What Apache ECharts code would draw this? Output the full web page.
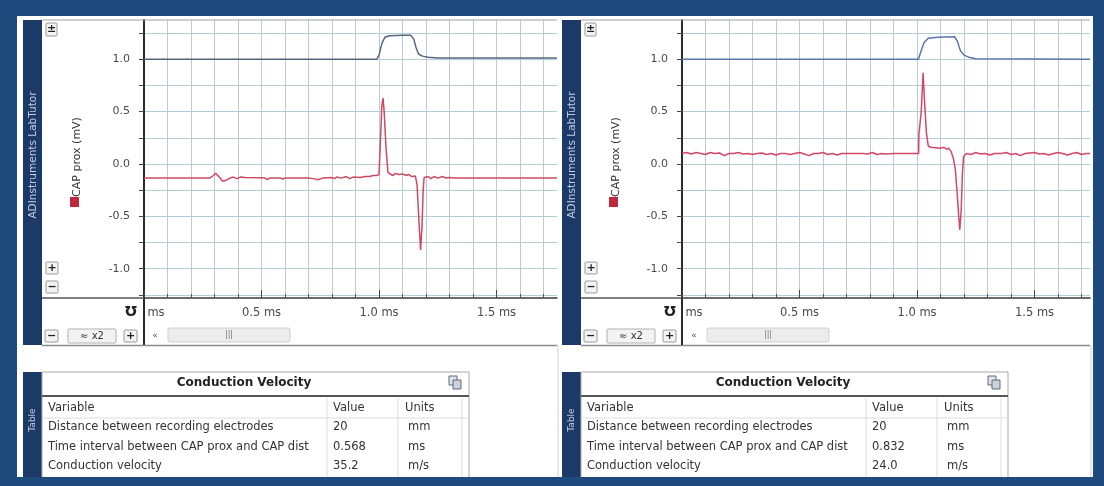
<!DOCTYPE html>
<html><head><meta charset="utf-8">
<script src="https://cdn.jsdelivr.net/npm/echarts@6/dist/echarts.min.js"></script>
<style>html,body{margin:0;padding:0;background:#1f4a7e;}#c{width:1104px;height:486px;}</style>
</head><body><div id="c"></div>
<script>
// ---------- data ----------
const seriesName = 'CAP prox (mV)';
const xUnit = 'ms';
const yTickValues = [-1.25, -1.0, -0.75, -0.5, -0.25, 0, 0.25, 0.5, 0.75, 1.0, 1.25];
const yLabelValues = [-1.0, -0.5, 0, 0.5, 1.0];
const xTickValues = [0.1, 0.2, 0.3, 0.4, 0.5, 0.6, 0.7, 0.8, 0.9, 1.0, 1.1, 1.2, 1.3, 1.4, 1.5, 1.6, 1.7];
const xLabelValues = [0, 0.5, 1.0, 1.5];
const yMin = -1.28, yMax = 1.375;

const leftStim = [[0,1.0],[0.99,1.0],[1.0,1.04],[1.012,1.15],[1.025,1.21],[1.045,1.225],[1.1,1.23],[1.135,1.23],[1.148,1.19],[1.158,1.11],[1.168,1.05],[1.185,1.03],[1.21,1.02],[1.25,1.012],[1.757,1.012]];
const leftCap = [[0,-0.135],[0.28,-0.135],[0.295,-0.11],[0.305,-0.09],[0.318,-0.12],[0.335,-0.165],[0.35,-0.155],[0.365,-0.135],[0.38,-0.125],[0.395,-0.14],[0.41,-0.125],[0.43,-0.13],[0.5,-0.132],[0.515,-0.135],[0.525,-0.15],[0.535,-0.135],[0.58,-0.133],[0.59,-0.145],[0.6,-0.133],[0.65,-0.135],[0.7,-0.133],[0.72,-0.14],[0.74,-0.15],[0.76,-0.135],[0.8,-0.13],[0.81,-0.14],[0.82,-0.125],[0.84,-0.135],[0.86,-0.12],[0.875,-0.14],[0.89,-0.125],[0.92,-0.13],[0.94,-0.12],[0.96,-0.12],[0.975,-0.11],[0.99,-0.11],[1.0,-0.1],[1.004,0.1],[1.012,0.55],[1.017,0.63],[1.022,0.5],[1.03,0.15],[1.038,-0.08],[1.05,-0.1],[1.06,-0.11],[1.07,-0.09],[1.085,-0.1],[1.1,-0.095],[1.115,-0.11],[1.125,-0.1],[1.14,-0.12],[1.155,-0.115],[1.162,-0.2],[1.17,-0.55],[1.177,-0.82],[1.183,-0.6],[1.188,-0.25],[1.192,-0.13],[1.2,-0.13],[1.21,-0.12],[1.22,-0.14],[1.235,-0.12],[1.25,-0.135],[1.27,-0.12],[1.285,-0.135],[1.3,-0.13],[1.32,-0.135],[1.757,-0.135]];

const rightStim = [[0,1.0],[1.006,1.0],[1.016,1.07],[1.03,1.16],[1.048,1.2],[1.09,1.21],[1.16,1.215],[1.172,1.17],[1.185,1.08],[1.2,1.04],[1.22,1.02],[1.25,1.005],[1.736,1.0]];
const rightCap = [[0,0.1],[0.02,0.11],[0.04,0.095],[0.06,0.11],[0.08,0.1],[0.1,0.09],[0.12,0.11],[0.14,0.1],[0.16,0.105],[0.18,0.08],[0.2,0.1],[0.22,0.1],[0.24,0.11],[0.26,0.095],[0.28,0.1],[0.3,0.09],[0.32,0.1],[0.34,0.105],[0.36,0.09],[0.38,0.1],[0.4,0.085],[0.42,0.1],[0.44,0.1],[0.46,0.09],[0.48,0.1],[0.5,0.11],[0.52,0.095],[0.54,0.08],[0.56,0.1],[0.58,0.1],[0.6,0.11],[0.62,0.09],[0.64,0.1],[0.66,0.085],[0.68,0.1],[0.7,0.1],[0.75,0.1],[0.77,0.1],[0.79,0.095],[0.81,0.11],[0.83,0.09],[0.85,0.1],[0.87,0.095],[0.9,0.1],[0.92,0.1],[1.007,0.1],[1.008,0.28],[1.018,0.5],[1.026,0.87],[1.032,0.6],[1.04,0.3],[1.048,0.17],[1.06,0.16],[1.08,0.155],[1.1,0.15],[1.115,0.16],[1.125,0.14],[1.135,0.15],[1.145,0.12],[1.155,0.05],[1.163,-0.05],[1.17,-0.25],[1.176,-0.45],[1.182,-0.63],[1.188,-0.45],[1.193,-0.1],[1.198,0.07],[1.21,0.1],[1.23,0.09],[1.25,0.11],[1.27,0.095],[1.29,0.1],[1.31,0.085],[1.33,0.1],[1.36,0.1],[1.38,0.11],[1.4,0.09],[1.42,0.1],[1.44,0.08],[1.46,0.1],[1.5,0.11],[1.52,0.095],[1.54,0.1],[1.56,0.085],[1.58,0.1],[1.6,0.11],[1.62,0.1],[1.64,0.085],[1.66,0.1],[1.68,0.11],[1.7,0.09],[1.72,0.1],[1.736,0.1]];

const tableTitle = 'Conduction Velocity';
const tableHeaders = ['Variable', 'Value', 'Units'];
const tableVariables = ['Distance between recording electrodes', 'Time interval between CAP prox and CAP dist', 'Conduction velocity'];
const leftValues = ['20', '0.568', '35.2'];
const rightValues = ['20', '0.832', '24.0'];
const tableUnits = ['mm', 'ms', 'm/s'];
const sideLabel = 'ADInstruments LabTutor';
const tableTab = 'Table';

// ---------- layout / style ----------
const FONT = 'DejaVu Sans';
const GRID_COLOR = '#b5cdd6';
const NAVY = '#1c3a68';
const panels = [
  {dx:0, left:144, width:413, stim:leftStim, cap:leftCap, stimColor:'#56667f', capColor:'#cc4a60', values:leftValues},
  {dx:539, left:682, width:408, stim:rightStim, cap:rightCap, stimColor:'#5a76ae', capColor:'#d4466a', values:rightValues}
];
const PX_PER_MS = 235;

const grids = [], xAxes = [], yAxes = [], series = [];
panels.forEach((p, i) => {
  const xMax = p.width / PX_PER_MS;
  grids.push({left:p.left, top:20, width:p.width, height:278, show:true, backgroundColor:'#ffffff', borderWidth:0});
  xAxes.push({gridIndex:i, type:'value', min:0, max:xMax, position:'bottom',
    axisLine:{show:true, onZero:false, lineStyle:{color:'#3a3a3a', width:1.5}},
    axisTick:{show:true, inside:true, length:4, customValues:xTickValues, lineStyle:{color:'#555'}},
    axisLabel:{customValues:xLabelValues, fontFamily:FONT, fontSize:11.5, color:'#4a4a4a', margin:9,
      formatter: v => v === 0 ? '{l|' + xUnit + '}' : v.toFixed(1) + ' ' + xUnit,
      rich:{l:{padding:[0,0,0,24], fontFamily:FONT, fontSize:11.5, color:'#4a4a4a'}}},
    splitLine:{show:true, lineStyle:{color:GRID_COLOR, width:1}}
  });
  xAxes.push({gridIndex:i, type:'value', min:0, max:xMax, position:'bottom',
    axisLine:{show:false, onZero:false},
    axisTick:{show:true, inside:true, length:8, customValues:xLabelValues, lineStyle:{color:'#444'}},
    axisLabel:{show:false}, splitLine:{show:false}
  });
  yAxes.push({gridIndex:i, type:'value', min:yMin, max:yMax,
    axisLine:{show:true, onZero:false, lineStyle:{color:'#2b2b2b', width:2}},
    axisTick:{show:true, length:5, customValues:yTickValues, lineStyle:{color:'#444'}},
    axisLabel:{customValues:yLabelValues, formatter: v => v.toFixed(1), fontFamily:FONT, fontSize:11, color:'#4a4a4a', margin:14},
    splitLine:{show:true, lineStyle:{color:GRID_COLOR, width:1}}
  });
  series.push({type:'line', xAxisIndex:2*i, yAxisIndex:i, data:p.stim, showSymbol:false, symbol:'none',
    lineStyle:{color:p.stimColor, width:1.5}, z:3});
  series.push({type:'line', name:seriesName, xAxisIndex:2*i, yAxisIndex:i, data:p.cap, showSymbol:false, symbol:'none',
    lineStyle:{color:p.capColor, width:1.5}, z:4});
});

// ---------- decorative UI (LabTutor panel chrome + tables) ----------
const g = [];
g.push({type:'rect', shape:{x:17, y:16, width:1076, height:461}, style:{fill:'#ffffff'}, z:-100});
function txt(x, y, text, font, fill, align, rot) {
  g.push({type:'text', x:x, y:y, rotation:rot || 0, z:10,
    style:{text:text, font:font, fill:fill || '#333', align:align || 'left', verticalAlign:'middle'}});
}
function btn(x, y, w, h, label) {
  g.push({type:'rect', shape:{x:x, y:y, width:w, height:h, r:1}, style:{fill:'#f3f3f3', stroke:'#9a9a9a', lineWidth:1}, z:10});
  txt(x + w / 2, y + h / 2, label, 'bold 11px ' + FONT, '#222', 'center');
}
function line(x1, y1, x2, y2, color, w) {
  g.push({type:'line', shape:{x1:x1, y1:y1, x2:x2, y2:y2}, style:{stroke:color, lineWidth:w || 1}, z:10});
}
panels.forEach(p => {
  const d = p.dx, right = p.left + p.width;
  // navy side bar
  g.push({type:'rect', shape:{x:23 + d, y:20, width:19, height:325}, style:{fill:NAVY}, z:5});
  txt(33 + d, 155, sideLabel, '10.5px ' + FONT, '#c3cee0', 'center', Math.PI / 2);
  // frame lines
  line(42 + d, 20, right, 20, '#a0a0a0', 1);
  line(42 + d, 345.5, right, 345.5, '#8a8a8a', 1.5);
  line(p.left, 298, p.left, 345, '#2b2b2b', 2);
  line(42 + d, 298, p.left, 298, '#555', 1.5);
  line(right + 1, 345, right + 1, 477, '#d0d0d0', 1);
  // legend
  txt(77 + d, 157, seriesName, '11px ' + FONT, '#333', 'center', Math.PI / 2);
  g.push({type:'rect', shape:{x:70 + d, y:197, width:9, height:10}, style:{fill:'#c0283e'}, z:10});
  // icons
  btn(46 + d, 23, 11, 13, '±');
  btn(46 + d, 262, 12, 12, '+');
  btn(46 + d, 281, 12, 12, '−');
  btn(45 + d, 330, 13, 12, '−');
  g.push({type:'rect', shape:{x:68 + d, y:329, width:48, height:14, r:1}, style:{fill:'#f3f3f3', stroke:'#b0b0b0'}, z:10});
  txt(92 + d, 336, '≈ x2', '10px ' + FONT, '#333', 'center');
  btn(124 + d, 330, 13, 12, '+');
  txt(131 + d, 312, 'Ʊ', 'bold 14px ' + FONT, '#222', 'center');
  txt(155 + d, 336, '«', '9px ' + FONT, '#555', 'center');
  g.push({type:'rect', shape:{x:168 + d, y:328, width:122, height:14, r:2}, style:{fill:'#ececec', stroke:'#d0d0d0'}, z:10});
  txt(229 + d, 335, '|||', '8px ' + FONT, '#777', 'center');
  // table
  g.push({type:'rect', shape:{x:23 + d, y:372, width:19, height:105}, style:{fill:NAVY}, z:5});
  txt(33 + d, 420, tableTab, '9px ' + FONT, '#c3cee0', 'center', Math.PI / 2);
  g.push({type:'rect', shape:{x:42 + d, y:372, width:427, height:108}, style:{fill:'#ffffff', stroke:'#a8a8a8', lineWidth:1}, z:6});
  txt(244 + d, 383, tableTitle, 'bold 12px ' + FONT, '#222', 'center');
  g.push({type:'rect', shape:{x:449 + d, y:376, width:8, height:9}, style:{fill:'#dfe6ef', stroke:'#667'}, z:10});
  g.push({type:'rect', shape:{x:453 + d, y:380, width:8, height:9}, style:{fill:'#c9d3e0', stroke:'#667'}, z:11});
  line(42 + d, 396, 469 + d, 396, '#555', 2);
  line(42 + d, 418, 469 + d, 418, '#dddddd', 1);
  [327, 398, 462].forEach(cx => line(cx + d, 398, cx + d, 477, '#dddddd', 1));
  txt(48 + d, 408, tableHeaders[0], '11.5px ' + FONT, '#333');
  txt(333 + d, 408, tableHeaders[1], '11.5px ' + FONT, '#333');
  txt(405 + d, 408, tableHeaders[2], '11.5px ' + FONT, '#333');
  [427, 447, 466].forEach((ry, k) => {
    txt(48 + d, ry, tableVariables[k], '11.5px ' + FONT, '#333');
    txt(333 + d, ry, p.values[k], '11.5px ' + FONT, '#333');
    txt(408 + d, ry, tableUnits[k], '11.5px ' + FONT, '#333');
  });
  // bottom frame edge covering the table
  g.push({type:'rect', shape:{x:0, y:477, width:1104, height:9}, style:{fill:'#1f4a7e'}, z:20});
});

const chart = echarts.init(document.getElementById('c'), null, {renderer:'canvas'});
chart.setOption({
  animation:false,
  backgroundColor:'#1f4a7e',
  grid:grids, xAxis:xAxes, yAxis:yAxes, series:series,
  graphic:{elements:g}
});
</script>
</body></html>
